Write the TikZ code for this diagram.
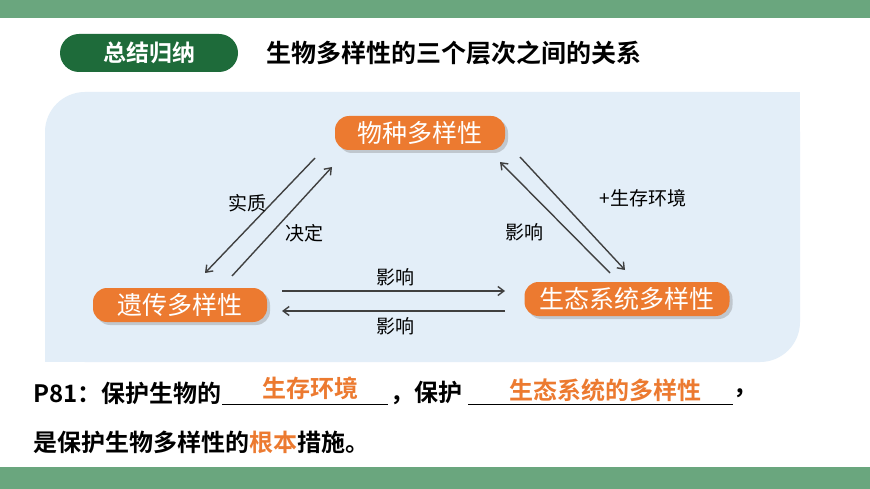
\documentclass[tikz,border=0pt]{standalone}
\usepackage{fontspec}
\setmainfont{Noto Sans CJK SC}
\newfontfamily\cjkb{Noto Sans CJK SC Bold}
\usetikzlibrary{shadows,arrows.meta}
\definecolor{bar}{HTML}{6AA67E}
\definecolor{dg}{HTML}{1E6B3A}
\definecolor{panel}{HTML}{E3EEF8}
\definecolor{org}{HTML}{EC7A30}
\definecolor{ar}{HTML}{404040}
\tikzset{
 pill/.style={fill=org,rounded corners=14pt,text=white,font=\fontsize{25}{26}\selectfont,minimum height=34pt,inner xsep=6pt,inner ysep=0pt,drop shadow={shadow xshift=3pt,shadow yshift=-3pt,opacity=0.35}},
 arr/.style={draw=ar,line width=1.4pt,-{Straight Barb[length=6pt,width=9pt]}},
 lab/.style={font=\fontsize{19}{20}\selectfont,text=black},
 txt/.style={font=\cjkb\fontsize{24}{25}\selectfont,anchor=west,inner sep=0pt},
 ans/.style={font=\cjkb\fontsize{24}{25}\selectfont,text=org,inner sep=0pt}
}
\begin{document}
\begin{tikzpicture}[x=1pt,y=-1pt]
\useasboundingbox (0,0) rectangle (870,489);
\fill[white] (0,0) rectangle (870,489);
\fill[bar] (0,0) rectangle (870,18);
\fill[bar] (0,467) rectangle (870,489);
\node[fill=dg,rounded corners=19pt,minimum width=178pt,minimum height=38pt,inner ysep=0pt,text=white,font=\cjkb\fontsize{23}{24}\selectfont] (title) at (149,53) {总结归纳};
\node[font=\cjkb\fontsize{25}{26}\selectfont,anchor=west,inner sep=0pt] (head) at (266,53) {生物多样性的三个层次之间的关系};
\fill[panel,rounded corners=40pt] (45,362) -- (45,92) -- (800,92) -- (800,362) -- cycle;
\fill[panel] (45,300) rectangle (100,362);
\fill[panel] (740,92) rectangle (800,150);
\node[pill,minimum width=170pt] (sp) at (420,133) {物种多样性};
\node[pill,minimum width=174pt] (ge) at (180,305) {遗传多样性};
\node[pill,minimum width=205pt] (ec) at (627,299) {生态系统多样性};
\coordinate (a1) at (315,158); \coordinate (a2) at (205,273);
\coordinate (b1) at (232,276); \coordinate (b2) at (332,167);
\coordinate (c1) at (520,157); \coordinate (c2) at (625,270);
\coordinate (d1) at (610,273); \coordinate (d2) at (500,162);
\coordinate (e1) at (282,291); \coordinate (e2) at (505,291);
\coordinate (f1) at (505,311); \coordinate (f2) at (282,311);
\draw[arr] (a1) -- (a2);
\draw[arr] (b1) -- (b2);
\draw[arr] (c1) -- (c2);
\draw[arr] (d1) -- (d2);
\draw[arr] (e1) -- (e2);
\draw[arr] (f1) -- (f2);
\node[lab] (l1) at (247,203) {实质};
\node[lab] (l2) at (304,233) {决定};
\node[lab] (l3) at (643,198) {+生存环境};
\node[lab] (l4) at (524,232) {影响};
\node[lab] (l5) at (395,277) {影响};
\node[lab] (l6) at (395,326) {影响};
\node[txt] (p1) at (33,393) {P81：保护生物的};
\draw[line width=0.8pt] (222,404) -- (388,404);
\node[ans] (an1) at (310,388) {生存环境};
\node[txt] (p2) at (390,393) {，保护};
\draw[line width=0.8pt] (468,404) -- (733,404);
\node[ans] (an2) at (605,390) {生态系统的多样性};
\node[txt] (p3) at (733,393) {，};
\node[txt] (p4) at (33,442) {是保护生物多样性的\textcolor{org}{根本}措施。};
\end{tikzpicture}
\end{document}
